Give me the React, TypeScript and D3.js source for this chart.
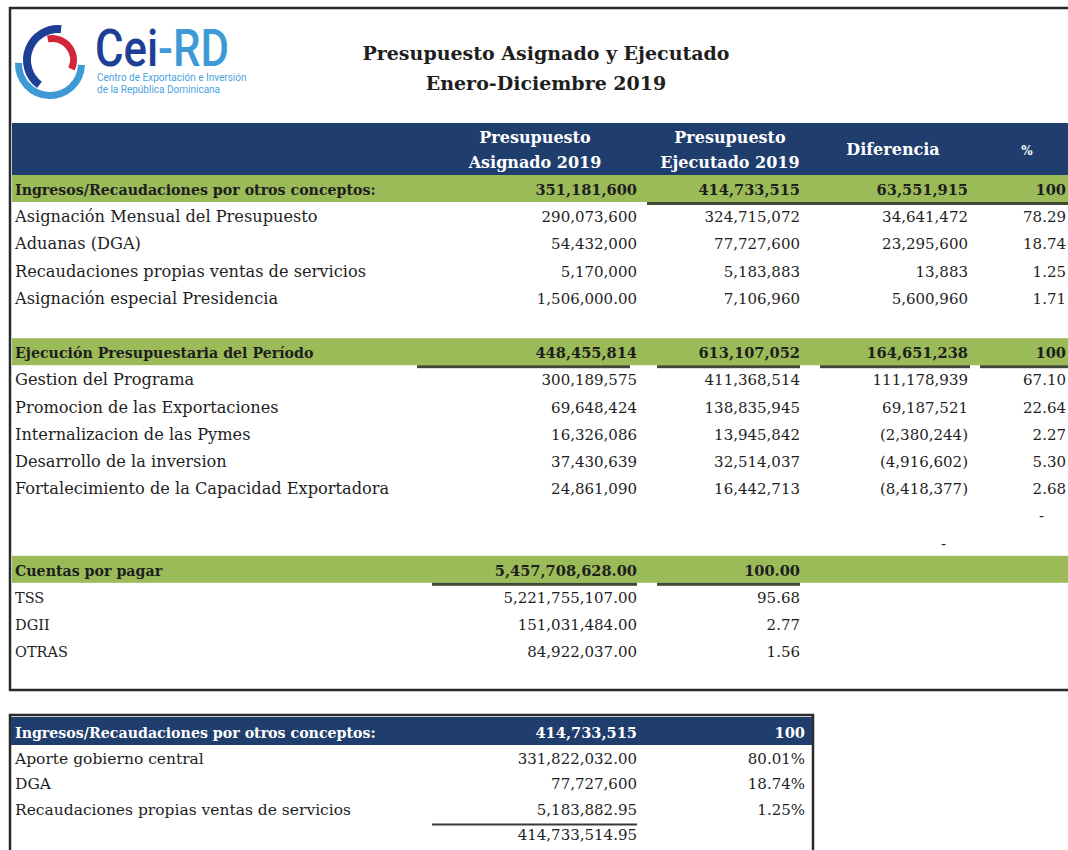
import React, { useRef, useEffect } from 'react';
import * as d3 from 'd3';

// --- data ---
const title = ['Presupuesto Asignado y Ejecutado', 'Enero-Diciembre 2019'];
const headers = [['Presupuesto', 'Asignado 2019'], ['Presupuesto', 'Ejecutado 2019'], ['Diferencia'], ['%']];

const ingresosTitle = 'Ingresos/Recaudaciones por otros conceptos:';
const ingresosTotals = [351181600, 414733515, 63551915, 100];
const ingresosLabels = [
  'Asignación Mensual del Presupuesto',
  'Aduanas (DGA)',
  'Recaudaciones propias ventas de servicios',
  'Asignación especial Presidencia',
];
const ingresosAsignado = [290073600, 54432000, 5170000, 1506000];
const ingresosAsignadoDecimals = [0, 0, 0, 2];
const ingresosEjecutado = [324715072, 77727600, 5183883, 7106960];
const ingresosDiferencia = [34641472, 23295600, 13883, 5600960];
const ingresosPct = [78.29, 18.74, 1.25, 1.71];

const ejecucionTitle = 'Ejecución Presupuestaria del Período';
const ejecucionTotals = [448455814, 613107052, 164651238, 100];
const ejecucionLabels = [
  'Gestion del Programa',
  'Promocion de las Exportaciones',
  'Internalizacion de las Pymes',
  'Desarrollo de la inversion',
  'Fortalecimiento de la Capacidad Exportadora',
];
const ejecucionAsignado = [300189575, 69648424, 16326086, 37430639, 24861090];
const ejecucionEjecutado = [411368514, 138835945, 13945842, 32514037, 16442713];
const ejecucionDiferencia = [111178939, 69187521, -2380244, -4916602, -8418377];
const ejecucionPct = [67.1, 22.64, 2.27, 5.3, 2.68];

const cuentasTitle = 'Cuentas por pagar';
const cuentasTotals = [5457708628, 100];
const cuentasLabels = ['TSS', 'DGII', 'OTRAS'];
const cuentasMonto = [5221755107, 151031484, 84922037];
const cuentasPct = [95.68, 2.77, 1.56];

const aporteTitle = 'Ingresos/Recaudaciones por otros conceptos:';
const aporteTotals = [414733515, 100];
const aporteLabels = ['Aporte gobierno central', 'DGA', 'Recaudaciones propias ventas de servicios'];
const aporteMonto = [331822032, 77727600, 5183882.95];
const aporteDecimals = [2, 0, 2];
const aportePct = [80.01, 18.74, 1.25];
const aporteSum = 414733514.95;

const NAVY = '#1f3d6d';
const GREEN = '#9bbb59';
const INK = '#1e1e1e';
const SERIF = '"DejaVu Serif", serif';

const fmt = (v: number, dec = 0) => {
  const s = d3.format(`,.${dec}f`)(Math.abs(v));
  return v < 0 ? `(${s})` : s;
};

function App() {
  const ref = useRef<SVGSVGElement>(null);

  useEffect(() => {
    const svg = d3.select(ref.current);
    svg.selectAll('*').remove();

    // logo
    const logo = svg.append('g');
    const arc = d3.arc<any>();
    logo.append('path')
      .attr('transform', 'translate(50,64)')
      .attr('d', arc({ innerRadius: 28, outerRadius: 35, startAngle: 1.6, endAngle: 4.75, cornerRadius: 3 }))
      .attr('fill', '#3d9ad6');
    logo.append('path')
      .attr('transform', 'translate(58,60)')
      .attr('d', arc({ innerRadius: 27, outerRadius: 35, startAngle: -2.5, endAngle: 0.1, cornerRadius: 3 }))
      .attr('fill', '#1d3f95');
    logo.append('path')
      .attr('transform', 'translate(52,60)')
      .attr('d', arc({ innerRadius: 18, outerRadius: 25, startAngle: -0.2, endAngle: 2.0, cornerRadius: 3 }))
      .attr('fill', '#d3263a');
    const brand = logo.append('text')
      .attr('x', 95).attr('y', 66)
      .attr('font-family', 'Roboto, sans-serif').attr('font-weight', 500).attr('font-size', 52)
      .attr('textLength', 134).attr('lengthAdjust', 'spacingAndGlyphs');
    brand.append('tspan').attr('fill', '#1d3f95').text('Cei');
    brand.append('tspan').attr('fill', '#3d9ad6').text('-RD');
    logo.selectAll('text.sub')
      .data(['Centro de Exportación e Inversión', 'de la República Dominicana'])
      .join('text')
      .attr('class', 'sub')
      .attr('x', 97).attr('y', (_, i) => 81 + i * 12)
      .attr('font-family', 'Roboto, sans-serif').attr('font-size', 10)
      .attr('fill', '#4aa3df')
      .text((d) => d);

    // title
    svg.selectAll('text.title')
      .data(title)
      .join('text')
      .attr('class', 'title')
      .attr('x', 546).attr('y', (_, i) => 60 + i * 30)
      .attr('text-anchor', 'middle')
      .attr('font-family', SERIF).attr('font-weight', 'bold').attr('font-size', 19)
      .attr('fill', INK)
      .text((d) => d);

    // main table frame
    svg.append('rect')
      .attr('x', 10).attr('y', 8).attr('width', 1080).attr('height', 682)
      .attr('fill', 'none').attr('stroke', '#2a2a2a').attr('stroke-width', 2.5);

    const colRight = d3.scaleOrdinal<number, number>().domain([0, 1, 2, 3]).range([637, 800, 968, 1066]);
    const colCenter = d3.scaleOrdinal<number, number>().domain([0, 1, 2, 3]).range([535, 730, 893, 1027]);

    // header band
    svg.append('rect').attr('x', 12).attr('y', 123).attr('width', 1060).attr('height', 52).attr('fill', NAVY);
    headers.forEach((lines, c) => {
      svg.append('g').selectAll('text')
        .data(lines)
        .join('text')
        .attr('x', colCenter(c))
        .attr('y', (_, i) => (lines.length === 1 ? 155 : 143 + i * 25))
        .attr('text-anchor', 'middle')
        .attr('font-family', SERIF).attr('font-weight', 'bold').attr('font-size', c === 3 ? 12 : 16)
        .attr('fill', '#fff')
        .text((d) => d);
    });

    // rows of main table
    type Row = { i: number; kind: 'green' | 'row' | 'dash'; label: string; cells: (string | null)[]; underline?: number[][] };
    const rows: Row[] = [];
    rows.push({
      i: 0, kind: 'green', label: ingresosTitle,
      cells: ingresosTotals.map((v) => fmt(v)),
      underline: [[647, 1072]],
    });
    ingresosLabels.forEach((label, k) => rows.push({
      i: 1 + k, kind: 'row', label,
      cells: [fmt(ingresosAsignado[k], ingresosAsignadoDecimals[k]), fmt(ingresosEjecutado[k]), fmt(ingresosDiferencia[k]), fmt(ingresosPct[k], 2)],
    }));
    rows.push({
      i: 6, kind: 'green', label: ejecucionTitle,
      cells: ejecucionTotals.map((v) => fmt(v)),
      underline: [[417, 630], [657, 800], [820, 970], [980, 1072]],
    });
    ejecucionLabels.forEach((label, k) => rows.push({
      i: 7 + k, kind: 'row', label,
      cells: [fmt(ejecucionAsignado[k]), fmt(ejecucionEjecutado[k]), fmt(ejecucionDiferencia[k]), fmt(ejecucionPct[k], 2)],
    }));
    rows.push({ i: 12, kind: 'dash', label: '', cells: [null, null, null, '-'] });
    rows.push({ i: 13, kind: 'dash', label: '', cells: [null, null, '-', null] });
    rows.push({
      i: 14, kind: 'green', label: cuentasTitle,
      cells: [fmt(cuentasTotals[0], 2), fmt(cuentasTotals[1], 2), null, null],
      underline: [[432, 637], [657, 800]],
    });
    cuentasLabels.forEach((label, k) => rows.push({
      i: 15 + k, kind: 'row', label,
      cells: [fmt(cuentasMonto[k], 2), fmt(cuentasPct[k], 2), null, null],
    }));

    const y = d3.scaleLinear().domain([0, 17]).range([190, 652.4]);

    const body = svg.append('g');
    const rowG = body.selectAll('g.row')
      .data(rows)
      .join('g')
      .attr('class', 'row')
      .attr('transform', (d) => `translate(0,${y(d.i)})`);

    rowG.filter((d) => d.kind === 'green')
      .append('rect')
      .attr('x', 12).attr('y', -15).attr('width', 1060).attr('height', 27)
      .attr('fill', GREEN);
    rowG.filter((d) => d.kind === 'green')
      .selectAll('line')
      .data((d) => d.underline || [])
      .join('rect')
      .attr('x', (d) => d[0]).attr('y', 12).attr('width', (d) => d[1] - d[0]).attr('height', 3)
      .attr('fill', '#3f4a35');

    rowG.append('text')
      .attr('x', 15).attr('y', 5)
      .attr('font-family', SERIF)
      .attr('font-size', (d) => (d.kind === 'green' ? 14.2 : d.i >= 15 ? 14.5 : 16.2))
      .attr('font-weight', (d) => (d.kind === 'green' ? 'bold' : 'normal'))
      .attr('fill', INK)
      .text((d) => d.label);

    rowG.selectAll('text.cell')
      .data((d) => d.cells.map((c, col) => ({ c, col, kind: d.kind })).filter((e) => e.c !== null))
      .join('text')
      .attr('class', 'cell')
      .attr('x', (d) => colRight(d.col) - (d.kind === 'dash' ? 22 : 0))
      .attr('y', 5)
      .attr('text-anchor', 'end')
      .attr('font-family', SERIF).attr('font-size', (d) => (d.kind === 'green' ? 14.6 : 15))
      .attr('font-weight', (d) => (d.kind === 'green' ? 'bold' : 'normal'))
      .attr('fill', INK)
      .text((d) => d.c as string);

    // second table
    const t2 = svg.append('g');
    const y2 = d3.scaleLinear().domain([0, 4]).range([738, 840]);
    const col2 = d3.scaleOrdinal<number, number>().domain([0, 1]).range([637, 805]);
    t2.append('rect')
      .attr('x', 10).attr('y', 715).attr('width', 803).attr('height', 150)
      .attr('fill', 'none').attr('stroke', '#2a2a2a').attr('stroke-width', 2.5);
    t2.append('rect').attr('x', 11).attr('y', 717).attr('width', 801).attr('height', 28).attr('fill', NAVY);
    t2.append('text')
      .attr('x', 15).attr('y', y2(0))
      .attr('font-family', SERIF).attr('font-weight', 'bold').attr('font-size', 14.2).attr('fill', '#fff')
      .text(aporteTitle);
    t2.selectAll('text.tot')
      .data(aporteTotals)
      .join('text')
      .attr('class', 'tot')
      .attr('x', (_, c) => col2(c)).attr('y', y2(0))
      .attr('text-anchor', 'end')
      .attr('font-family', SERIF).attr('font-weight', 'bold').attr('font-size', 14.6).attr('fill', '#fff')
      .text((d) => fmt(d));
    const r2 = t2.selectAll('g.r2')
      .data(aporteLabels)
      .join('g')
      .attr('class', 'r2')
      .attr('transform', (_, k) => `translate(0,${y2(k + 1)})`);
    r2.append('text')
      .attr('x', 15).attr('font-family', SERIF).attr('font-size', 15.5).attr('fill', INK)
      .text((d) => d);
    r2.append('text')
      .attr('x', col2(0)).attr('text-anchor', 'end')
      .attr('font-family', SERIF).attr('font-size', 15).attr('fill', INK)
      .text((_, k) => fmt(aporteMonto[k], aporteDecimals[k]));
    r2.append('text')
      .attr('x', col2(1)).attr('text-anchor', 'end')
      .attr('font-family', SERIF).attr('font-size', 15).attr('fill', INK)
      .text((_, k) => `${fmt(aportePct[k], 2)}%`);
    t2.append('rect')
      .attr('x', 432).attr('y', y2(3) + 9).attr('width', 205).attr('height', 2)
      .attr('fill', '#3a3a3a');
    t2.append('text')
      .attr('x', col2(0)).attr('y', y2(4)).attr('text-anchor', 'end')
      .attr('font-family', SERIF).attr('font-size', 15).attr('fill', INK)
      .text(fmt(aporteSum, 2));
  }, []);

  return (
    <svg
      ref={ref}
      width={1068}
      height={850}
      style={{ position: 'absolute', left: 0, top: 0, background: '#fff' }}
    />
  );
}

export default App;
